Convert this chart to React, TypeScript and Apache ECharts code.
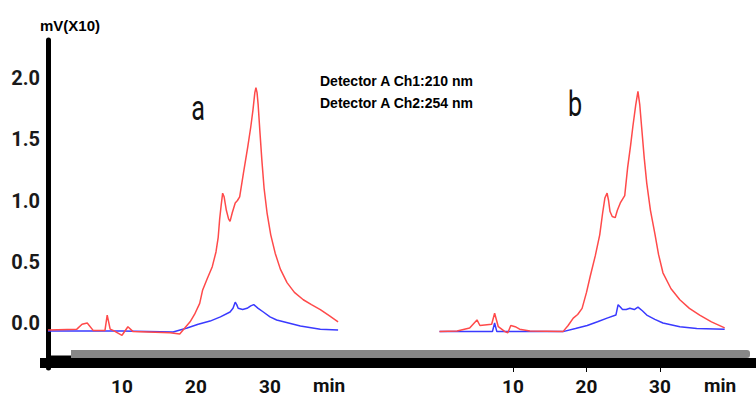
import React, { useEffect, useRef } from "react";
import * as echarts from "echarts";

// y-axis tick labels (mV x10) and x-axis tick labels (min)
const yTicks = [0, 0.5, 1.0, 1.5, 2.0];
const xTicks = [10, 20, 30];

// Panel a – Ch1 210 nm (red)
const redA_t = [0, 3.9, 4.6, 5.3, 6.1, 7.7, 8.0, 8.4, 8.8, 10.0, 10.8, 11.5, 16.5, 17.8, 19.2, 19.8, 20.5, 20.9, 21.5, 22.2, 22.7, 23.0, 23.2, 23.4, 23.6, 23.8, 24.1, 24.4, 24.6, 24.9, 25.3, 25.6, 25.9, 26.4, 27.0, 27.4, 27.7, 27.95, 28.1, 28.25, 28.4, 28.65, 28.9, 29.2, 29.6, 30.1, 30.7, 31.4, 32.3, 33.3, 34.5, 35.6, 36.8, 38.0, 39.2];
const redA_v = [-0.057, -0.05, -0.01, 0.0, -0.06, -0.06, 0.065, -0.05, -0.06, -0.1, -0.03, -0.07, -0.08, -0.09, 0.01, 0.07, 0.16, 0.27, 0.36, 0.46, 0.58, 0.70, 0.85, 0.96, 1.06, 1.03, 0.92, 0.85, 0.83, 0.90, 0.98, 1.0, 1.03, 1.22, 1.44, 1.60, 1.74, 1.88, 1.92, 1.88, 1.78, 1.55, 1.33, 1.10, 0.90, 0.72, 0.57, 0.44, 0.33, 0.25, 0.19, 0.15, 0.11, 0.06, 0.01];
// Panel a – Ch2 254 nm (blue)
const blueA_t = [0, 10, 16.9, 18.8, 20.3, 21.9, 23.3, 24.6, 25.0, 25.3, 25.5, 25.7, 26.3, 26.9, 27.4, 27.8, 28.4, 29.1, 30.0, 30.9, 32.5, 34.1, 36.8, 39.2];
const blueA_v = [-0.065, -0.065, -0.073, -0.04, -0.01, 0.016, 0.05, 0.09, 0.12, 0.17, 0.15, 0.12, 0.11, 0.12, 0.14, 0.15, 0.12, 0.09, 0.05, 0.025, 0.0, -0.025, -0.05, -0.057];

// Panel b – Ch1 210 nm (red)
const redB_t = [0, 2.4, 4.1, 5.1, 5.5, 7.1, 7.5, 8.0, 8.9, 9.3, 9.7, 10.3, 10.9, 12.3, 16.8, 17.5, 18.2, 18.8, 19.4, 20.0, 20.5, 21.2, 21.8, 22.2, 22.5, 22.8, 23.0, 23.2, 23.5, 23.9, 24.2, 24.6, 25.2, 25.6, 26.0, 26.3, 26.7, 27.0, 27.25, 27.5, 27.85, 28.2, 28.7, 29.3, 29.8, 30.4, 31.5, 32.7, 34.0, 35.4, 37.0, 38.8];
const redB_v = [-0.07, -0.065, -0.04, 0.025, -0.02, -0.01, 0.08, -0.03, -0.07, -0.08, -0.02, -0.03, -0.05, -0.065, -0.07, -0.02, 0.04, 0.07, 0.12, 0.25, 0.38, 0.55, 0.72, 0.90, 1.02, 1.06, 1.0, 0.91, 0.87, 0.86, 0.92, 0.98, 1.04, 1.27, 1.45, 1.60, 1.78, 1.89, 1.78, 1.60, 1.35, 1.14, 0.92, 0.73, 0.56, 0.41, 0.28, 0.19, 0.12, 0.065, 0.01, -0.04];
// Panel b – Ch2 254 nm (blue)
const blueB_t = [0, 7.2, 7.5, 7.8, 16.8, 18.5, 20.1, 21.5, 22.8, 24.0, 24.3, 24.6, 24.9, 25.4, 25.9, 26.5, 27.0, 27.6, 28.2, 29.3, 30.4, 32.7, 35.0, 38.8];
const blueB_v = [-0.07, -0.07, 0.0, -0.07, -0.07, -0.045, -0.02, 0.01, 0.04, 0.065, 0.15, 0.13, 0.11, 0.11, 0.12, 0.11, 0.13, 0.10, 0.065, 0.03, 0.0, -0.03, -0.045, -0.05];

const zip = (t: number[], v: number[]) => t.map((x, i) => [x, v[i]]);

const RED = "#ff4a4a";
const BLUE = "#3a3aff";
const LABEL_FONT = "Roboto, 'Liberation Sans', sans-serif";

export default function App() {
  const ref = useRef<HTMLDivElement>(null);
  useEffect(() => {
    const chart = echarts.init(ref.current!, null, { renderer: "svg" });
    const xLabel = {
      customValues: xTicks,
      margin: 9,
      fontSize: 19,
      fontWeight: "bold",
      color: "#111",
      fontFamily: LABEL_FONT,
    };
    const lineSeries = (xi: number, t: number[], v: number[], color: string) => ({
      type: "line",
      xAxisIndex: xi,
      yAxisIndex: xi,
      data: zip(t, v),
      showSymbol: false,
      lineStyle: { color, width: 1.5 },
      itemStyle: { color },
    });
    chart.setOption({
      animation: false,
      backgroundColor: "#fff",
      grid: [
        { left: 48, top: 40, width: 296, height: 328 },
        { left: 439.5, top: 40, width: 294, height: 328 },
      ],
      xAxis: [
        {
          gridIndex: 0, type: "value", min: 0, max: 40,
          axisLine: { show: false, onZero: false }, axisTick: { show: false }, splitLine: { show: false },
          axisLabel: xLabel,
        },
        {
          gridIndex: 1, type: "value", min: 0, max: 40,
          axisLine: { show: false, onZero: false },
          axisTick: { show: true, customValues: xTicks, length: 4, lineStyle: { color: "#000", width: 1 } },
          splitLine: { show: false },
          axisLabel: xLabel,
        },
      ],
      yAxis: [
        {
          gridIndex: 0, type: "value", min: -0.367, max: 2.31, offset: 3,
          axisLine: { show: true, lineStyle: { color: "#000", width: 5 } },
          axisTick: { show: false }, splitLine: { show: false },
          axisLabel: {
            customValues: yTicks,
            formatter: (v: number) => v.toFixed(1),
            margin: 5,
            fontSize: 20,
            fontWeight: "bold",
            color: "#1a1a1a",
            fontFamily: LABEL_FONT,
          },
        },
        {
          gridIndex: 1, type: "value", min: -0.367, max: 2.31, show: false,
          splitLine: { show: false },
        },
      ],
      series: [
        lineSeries(0, blueA_t, blueA_v, BLUE),
        lineSeries(0, redA_t, redA_v, RED),
        lineSeries(1, blueB_t, blueB_v, BLUE),
        lineSeries(1, redB_t, redB_v, RED),
      ],
      graphic: [
        { type: "rect", shape: { x: 40, y: 358, width: 716, height: 10 }, style: { fill: "#000" }, z: 1 },
        { type: "rect", shape: { x: 48, y: 355.5, width: 24, height: 3 }, style: { fill: "#000" }, z: 1 },
        { type: "rect", shape: { x: 71, y: 350, width: 679, height: 8, r: [0, 3, 3, 0] }, style: { fill: "#878787" }, z: 1 },
        { type: "text", x: 40, y: 25, style: { text: "mV(X10)", font: "bold 15px 'Liberation Sans', Arial, sans-serif", fill: "#000", verticalAlign: "middle" } },
        { type: "text", x: 320, y: 81, style: { text: "Detector A Ch1:210 nm", font: "bold 14px 'Liberation Sans', Arial, sans-serif", fill: "#000", verticalAlign: "middle" } },
        { type: "text", x: 320, y: 103, style: { text: "Detector A Ch2:254 nm", font: "bold 14px 'Liberation Sans', Arial, sans-serif", fill: "#000", verticalAlign: "middle" } },
        { type: "text", x: 198, y: 108, scaleX: 0.72, style: { text: "a", font: "35px Roboto, sans-serif", fill: "#111", align: "center", verticalAlign: "middle" } },
        { type: "text", x: 575, y: 104, scaleX: 0.72, style: { text: "b", font: "35px Roboto, sans-serif", fill: "#111", align: "center", verticalAlign: "middle" } },
        { type: "text", x: 329, y: 385, style: { text: "min", font: "bold 19px " + LABEL_FONT, fill: "#111", align: "center", verticalAlign: "middle" } },
        { type: "text", x: 720, y: 385, style: { text: "min", font: "bold 19px " + LABEL_FONT, fill: "#111", align: "center", verticalAlign: "middle" } },
      ],
    });
    return () => chart.dispose();
  }, []);
  return <div ref={ref} style={{ position: "fixed", left: 0, top: 0, width: 756, height: 401 }} />;
}
